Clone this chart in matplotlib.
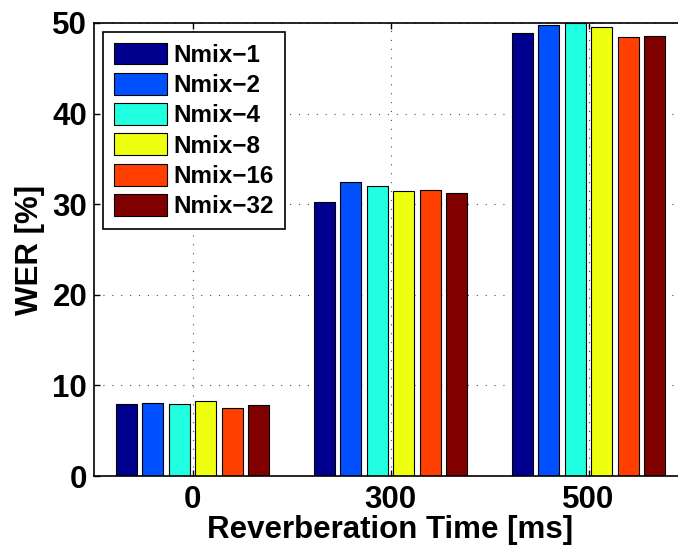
import numpy as np
import matplotlib
matplotlib.use("Agg")
import matplotlib.pyplot as plt

# WER per reverberation time for each number of mixture components
reverb_times = ["0", "300", "500"]
series_names = ["Nmix\u22121", "Nmix\u22122", "Nmix\u22124",
                "Nmix\u22128", "Nmix\u221216", "Nmix\u221232"]
nmix_1 = [7.9, 30.2, 48.9]
nmix_2 = [8.1, 32.5, 49.8]
nmix_4 = [7.9, 32.0, 50.0]
nmix_8 = [8.3, 31.5, 49.6]
nmix_16 = [7.5, 31.6, 48.4]
nmix_32 = [7.8, 31.2, 48.6]
colors = ["#00008F", "#0050FF", "#20FFDF", "#EFFF10", "#FF4000", "#800000"]

plt.rcParams['font.family'] = ['Liberation Sans', 'DejaVu Sans']
plt.rcParams['font.weight'] = 'bold'

fig = plt.figure(figsize=(6.78, 5.5), dpi=100)
ax = fig.add_axes([93.5 / 678, 74 / 550, 594 / 678, 453 / 550])

series = [nmix_1, nmix_2, nmix_4, nmix_8, nmix_16, nmix_32]
n = len(series)
x = np.arange(1, len(reverb_times) + 1)
slot = 0.8 / n
for i, (vals, name, c) in enumerate(zip(series, series_names, colors)):
    ax.bar(x + (i - (n - 1) / 2) * slot, vals, width=slot * 0.8, color=c,
           edgecolor='black', linewidth=0.8, label=name, zorder=2)

ax.set_xlim(0.5, 3.5)
ax.set_ylim(0, 50)
ax.set_xticks(x)
ax.set_xticklabels(reverb_times)
ax.set_yticks(np.arange(0, 51, 10))

ax.set_axisbelow(True)
ax.grid(True, color='0.3', linestyle=(0, (1, 7)), linewidth=0.8)

for sp in ax.spines.values():
    sp.set_linewidth(1.2)
ax.tick_params(direction='in', length=4.3, width=1.0, top=True, right=True,
               labelsize=22.5)
ax.tick_params(axis='x', pad=6.5)
ax.tick_params(axis='y', pad=4.5)

ax.set_xlabel("Reverberation Time [ms]", fontsize=22.5, fontweight='bold', labelpad=0)
ax.set_ylabel("WER [%]", fontsize=22.5, fontweight='bold', labelpad=5)

leg = ax.legend(loc='upper left', bbox_to_anchor=(102.7 / 678, 1 - 31.7 / 550),
                bbox_transform=fig.transFigure, borderaxespad=0,
                prop={'weight': 'bold', 'size': 17.5},
                handlelength=2.2, handleheight=1.0, handletextpad=0.27,
                labelspacing=0.25, borderpad=0.45, fancybox=False,
                framealpha=1, edgecolor='black')
leg.get_frame().set_linewidth(1.2)

fig.savefig("out.png", dpi=100)
